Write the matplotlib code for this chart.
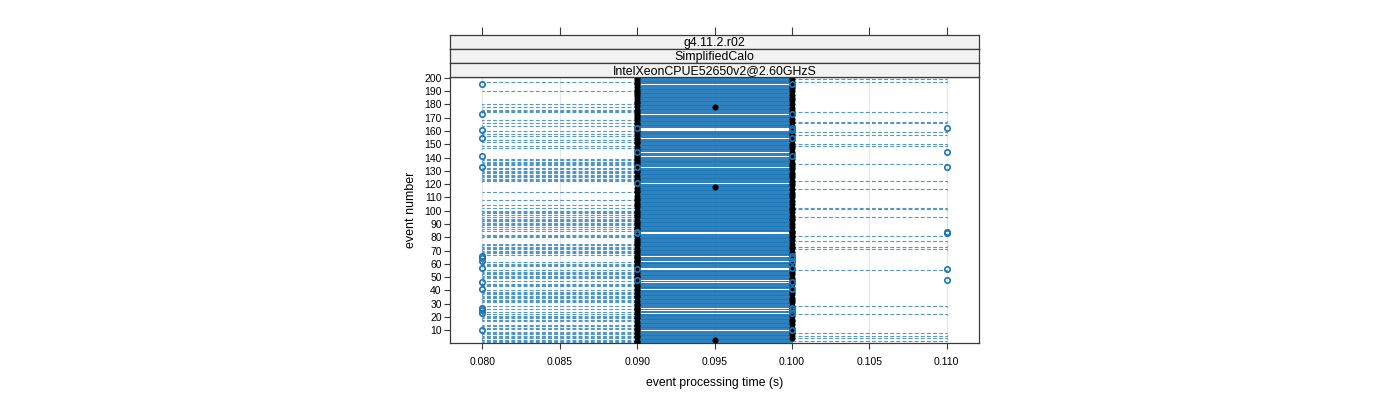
import matplotlib
matplotlib.use('Agg')
import matplotlib.pyplot as plt
from matplotlib.patches import Rectangle
from matplotlib.collections import LineCollection, PatchCollection

plt.rcParams['font.family'] = ['Liberation Sans', 'DejaVu Sans']

# ---------------- data ----------------
events = list(range(1, 201))
box_q1 = 0.090
box_q3 = 0.100

# events whose box collapses to a single value (all runs equal but outliers)
flat_090 = [10, 23, 25, 27, 41, 46, 57, 62, 64, 66, 141, 155, 161, 173, 195]
flat_100 = [48, 56, 83, 84, 121, 133, 144, 162]

# medians of the regular events
median_095 = [3, 118, 178]
median_090 = [1, 2, 5, 6, 8, 11, 13, 14, 16, 19, 20, 22, 26, 29, 30, 32, 35, 36, 38, 40,
              43, 44, 47, 50, 51, 53, 55, 58, 59, 61, 63, 65, 68, 70, 71, 74, 76, 77, 79,
              82, 86, 87, 89, 91, 92, 95, 97, 98, 100, 103, 104, 106, 108, 109, 111, 114,
              115, 117, 120, 123, 124, 126, 129, 130, 132, 135, 137, 138, 140, 142, 145,
              146, 148, 151, 152, 154, 157, 159, 163, 165, 166, 168, 170, 171, 174, 176,
              179, 181, 182, 184, 186, 188, 189, 191, 193, 196, 198, 200]

# whiskers reaching the extreme values
whisker_lo_080 = [1, 2, 3, 4, 5, 6, 7, 8, 9, 11, 12, 13, 14, 17, 18, 19, 20, 21, 22, 24, 26,
                  28, 31, 32, 33, 34, 35, 36, 37, 38, 39, 40, 43, 44, 45, 47, 49, 50, 51, 52,
                  53, 54, 55, 58, 59, 60, 61, 67, 68, 69, 70, 71, 72, 73, 74, 75, 80, 81, 82,
                  85, 86, 88, 89, 90, 91, 92, 93, 94, 95, 97, 98, 99, 100, 102, 104, 108, 114,
                  122, 123, 124, 125, 126, 127, 128, 129, 130, 131, 132, 134, 135, 136, 137,
                  138, 139, 147, 149, 152, 153, 156, 158, 160, 164, 166, 168, 174, 175, 176,
                  178, 180, 190, 197]
whisker_hi_110 = [2, 4, 6, 8, 22, 28, 55, 71, 73, 77, 81, 95, 101, 102, 116, 122, 135, 149,
                  150, 157, 159, 166, 167, 174, 197, 199]

# outlying runs (open circles)
outliers_080 = [10, 23, 25, 27, 41, 46, 57, 62, 64, 66, 133, 141, 155, 161, 173, 195]
outliers_090 = [48, 56, 83, 84, 121, 133, 144, 162]
outliers_100 = [10, 23, 25, 27, 41, 46, 57, 62, 64, 66, 141, 155, 161, 162, 173, 195]
outliers_110 = [48, 56, 83, 84, 133, 144, 162]

x_ticks = [0.080, 0.085, 0.090, 0.095, 0.100, 0.105, 0.110]
y_ticks = list(range(10, 201, 10))
strip_labels = ['g4.11.2.r02', 'SimplifiedCalo', 'IntelXeonCPUE52650v2@2.60GHzS']

# ---------------- styling ----------------
BLUE = '#1a76b8'
FRAME = '#3a3a3a'
STRIP_BG = '#f2f2f2'
half = 0.25

fig = plt.figure(figsize=(14, 4), dpi=100)
W, H = 1400, 400
L, R, B, T = 450, 979, 343, 77
ax = fig.add_axes([L / W, 1 - B / H, (R - L) / W, (B - T) / H])
xlim = (0.0779, 0.1121)
ax.set_xlim(*xlim)
ax.set_ylim(0.4, 200.6)

for xt in x_ticks:
    ax.axvline(xt, color='#e6e6e6', lw=0.9, zorder=0)

flat = set(flat_090) | set(flat_100)

# whiskers
segs, staples = [], []
for e in whisker_lo_080:
    if e in flat:
        continue
    segs.append([(box_q1, e), (0.080, e)])
    staples.append([(0.080, e - half), (0.080, e + half)])
for e in whisker_hi_110:
    if e in flat:
        continue
    segs.append([(box_q3, e), (0.110, e)])
    staples.append([(0.110, e - half), (0.110, e + half)])
ax.add_collection(LineCollection(segs, colors=BLUE, linewidths=0.8,
                                 linestyles=(0, (3.5, 2.0)), alpha=0.75, zorder=2))
ax.add_collection(LineCollection(staples, colors=BLUE, linewidths=0.8, alpha=0.75, zorder=2))

# boxes
rects = []
for e in events:
    if e in flat:
        continue
    rects.append(Rectangle((box_q1, e - half), box_q3 - box_q1, 2 * half))
ax.add_collection(PatchCollection(rects, facecolor='none', edgecolor=BLUE,
                                  linewidths=0.65, zorder=3))

# medians
mx, my = [], []
for e in events:
    if e in flat_090:
        mx.append(0.090)
    elif e in flat_100:
        mx.append(0.100)
    elif e in median_095:
        mx.append(0.095)
    elif e in median_090:
        mx.append(0.090)
    else:
        mx.append(0.100)
    my.append(e)
ax.plot(mx, my, 'o', color='black', ms=4.4, mew=0, zorder=5, linestyle='none')

# outliers
for val, lst in [(0.080, outliers_080), (0.090, outliers_090),
                 (0.100, outliers_100), (0.110, outliers_110)]:
    ax.plot([val] * len(lst), lst, 'o', mfc='none', mec=BLUE, ms=3.9, mew=1.2,
            zorder=6, linestyle='none')

# axes styling
for s in ax.spines.values():
    s.set_color(FRAME)
    s.set_linewidth(0.9)
ax.set_xticks(x_ticks)
ax.set_xticklabels([f'{v:.3f}' for v in x_ticks])
ax.set_yticks(y_ticks)
ax.tick_params(axis='both', labelsize=7.5, colors=FRAME, labelcolor='black',
               length=4, width=0.8, direction='out')
ax.tick_params(axis='x', pad=6)
ax.tick_params(axis='y', pad=2)
ax.set_xlabel('event processing time (s)', fontsize=8.8, labelpad=7)
ax.set_ylabel('event number', fontsize=9, labelpad=5)

# strips
strip_h = 14
for i, lab in enumerate(strip_labels):
    top = 35 + i * strip_h
    sax = fig.add_axes([L / W, 1 - (top + strip_h) / H, (R - L) / W, strip_h / H])
    sax.set_xlim(*xlim)
    sax.set_ylim(0, 1)
    sax.set_facecolor(STRIP_BG)
    for s in sax.spines.values():
        s.set_color(FRAME)
        s.set_linewidth(0.9)
    sax.set_yticks([])
    if i == 0:
        sax.set_xticks(x_ticks)
        sax.tick_params(axis='x', top=True, bottom=False, labeltop=False,
                        labelbottom=False, length=6, width=0.8, colors=FRAME,
                        direction='out')
    else:
        sax.set_xticks([])
    sax.text(0.5, 0.42, lab, transform=sax.transAxes, ha='center', va='center',
             fontsize=8.9)

fig.savefig('out.png', dpi=100)
